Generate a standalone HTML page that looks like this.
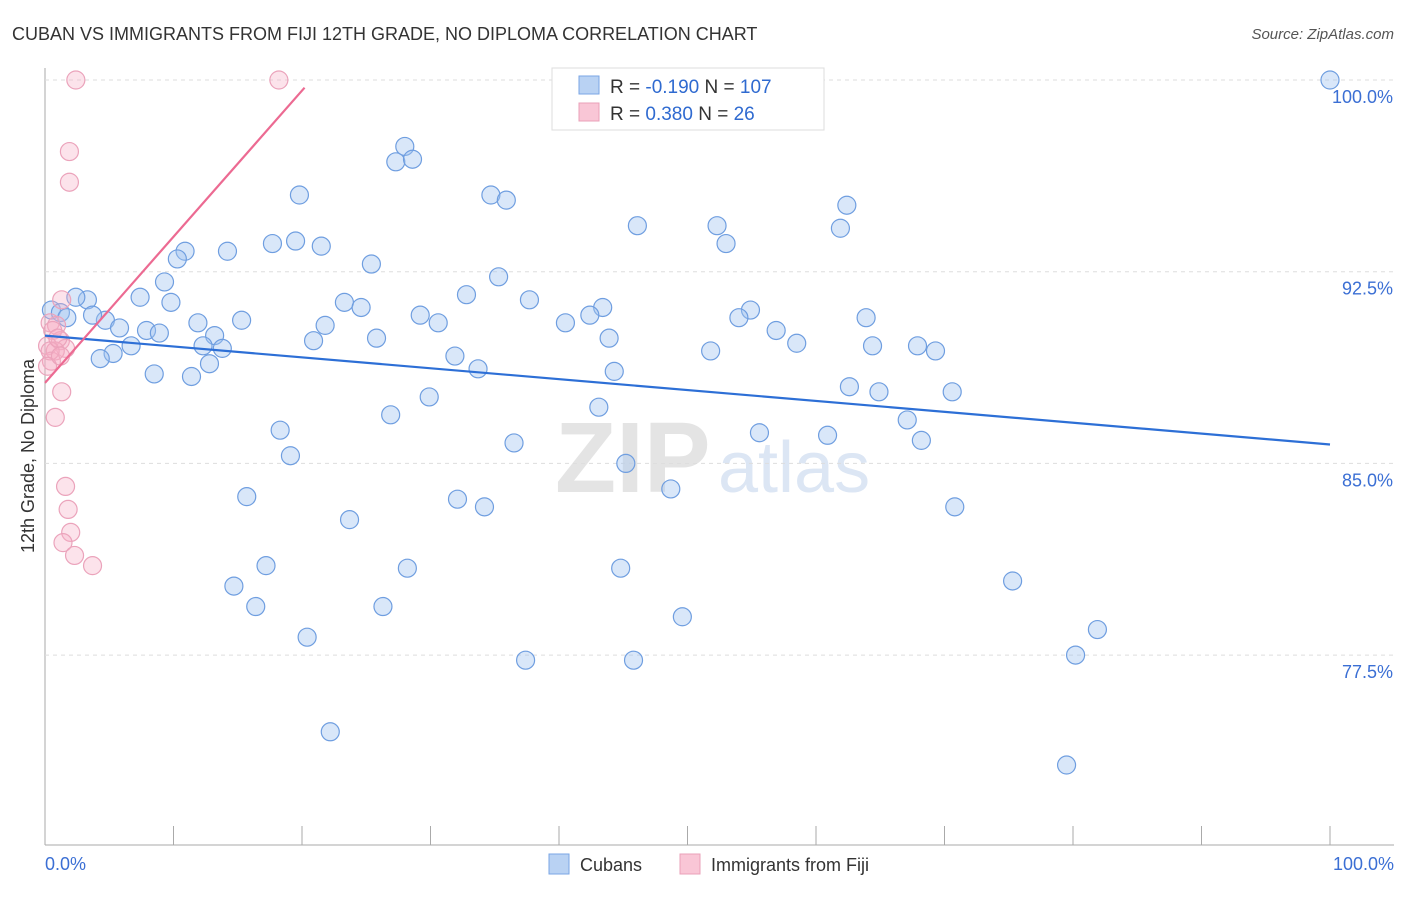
<!DOCTYPE html>
<html><head><meta charset="utf-8"><style>
body{margin:0;background:#fff;font-family:"Liberation Sans",sans-serif}
svg text{font-family:"Liberation Sans",sans-serif}
</style></head><body>
<svg id="c" width="1406" height="892">
<text x="12" y="40" font-size="18" fill="#333">CUBAN VS IMMIGRANTS FROM FIJI 12TH GRADE, NO DIPLOMA CORRELATION CHART</text>
<text x="1394" y="39" font-size="15" fill="#555" font-style="italic" text-anchor="end">Source: ZipAtlas.com</text>
<text x="555" y="492" font-size="100" fill="#e4e4e4" font-weight="bold">ZIP</text>
<text x="718" y="492" font-size="72" fill="#dce6f4">atlas</text>
<text transform="translate(34,456) rotate(-90)" font-size="18" fill="#333" text-anchor="middle">12th Grade, No Diploma</text>
<g id="grid"></g><g id="marks"></g>
<g>
<rect x="552" y="68" width="272" height="62" fill="#fff" stroke="#ddd"/>
<rect x="579" y="76" width="20" height="18" fill="#b9d2f3" stroke="#7aa6e4"/>
<rect x="579" y="103" width="20" height="18" fill="#f9c6d6" stroke="#eaa0b8"/>
<text x="610" y="93" font-size="19" fill="#333">R = <tspan fill="#2f6ad0">-0.190</tspan>   N = <tspan fill="#2f6ad0">107</tspan></text>
<text x="610" y="120" font-size="19" fill="#333">R =  <tspan fill="#2f6ad0">0.380</tspan>   N =   <tspan fill="#2f6ad0">26</tspan></text>
</g>
<g>
<rect x="549" y="854" width="20" height="20" fill="#b9d2f3" stroke="#7aa6e4"/>
<text x="580" y="871" font-size="18" fill="#333">Cubans</text>
<rect x="680" y="854" width="20" height="20" fill="#f9c6d6" stroke="#eaa0b8"/>
<text x="711" y="871" font-size="18" fill="#333">Immigrants from Fiji</text>
</g>
</svg>
<script>
const yTicks=[100,92.5,85,77.5];
const yTickLabels=["100.0%","92.5%","85.0%","77.5%"];
const xTickLabels=["0.0%","100.0%"];
const cubanX=[100,28.0,27.3,28.6,19.8,34.7,35.9,62.4,46.1,52.3,61.9,53.0,17.7,19.5,21.5,10.9,14.2,10.3,25.4,35.3,9.3,32.8,7.4,3.3,2.4,9.8,23.3,24.6,37.7,43.4,0.5,1.2,1.7,4.7,3.7,29.2,42.4,54.9,15.3,11.9,54.0,63.9,30.6,40.5,21.8,5.8,7.9,8.9,56.9,13.2,20.9,25.8,43.9,12.3,13.8,58.5,64.4,67.9,6.7,5.3,4.3,69.3,51.8,31.9,33.7,12.8,8.5,11.4,44.3,62.6,64.9,70.6,29.9,43.1,26.9,67.1,18.3,55.6,60.9,36.5,68.2,19.1,45.2,48.7,15.7,32.1,34.2,70.8,23.7,17.2,28.2,44.8,75.3,14.7,16.4,26.3,49.6,81.9,20.4,37.4,45.8,80.2,22.2,79.5];
const cubanY=[100,97.4,96.8,96.9,95.5,95.5,95.3,95.1,94.3,94.3,94.2,93.6,93.6,93.7,93.5,93.3,93.3,93.0,92.8,92.3,92.1,91.6,91.5,91.4,91.5,91.3,91.3,91.1,91.4,91.1,91.0,90.9,90.7,90.6,90.8,90.8,90.8,91.0,90.6,90.5,90.7,90.7,90.5,90.5,90.4,90.3,90.2,90.1,90.2,90.0,89.8,89.9,89.9,89.6,89.5,89.7,89.6,89.6,89.6,89.3,89.1,89.4,89.4,89.2,88.7,88.9,88.5,88.4,88.6,88.0,87.8,87.8,87.6,87.2,86.9,86.7,86.3,86.2,86.1,85.8,85.9,85.3,85.0,84.0,83.7,83.6,83.3,83.3,82.8,81.0,80.9,80.9,80.4,80.2,79.4,79.4,79.0,78.5,78.2,77.3,77.3,77.5,74.5,73.2];
const fijiX=[2.4,18.2,1.9,1.9,1.3,0.4,0.9,0.6,1.2,0.2,1.6,0.8,0.5,1.3,0.8,1.6,1.8,2.0,1.4,2.3,3.7,0.4,1.0,0.2,1.2];
const fijiY=[100,100,97.2,96.0,91.4,90.5,90.4,90.2,89.8,89.6,89.5,89.4,89.0,87.8,86.8,84.1,83.2,82.3,81.9,81.4,81.0,89.4,89.9,88.8,89.2];
const cubanTrend=[0,90.0,100,85.74];
const fijiTrend=[0,88.15,20.2,99.7];
const NS='http://www.w3.org/2000/svg';
const X=v=>45+v*12.85, Y=v=>80+(100-v)*25.56;
function mk(tag,attrs,parent){const e=document.createElementNS(NS,tag);for(const k in attrs)e.setAttribute(k,attrs[k]);parent.appendChild(e);return e;}
const grid=document.getElementById('grid'),marks=document.getElementById('marks');
mk('line',{x1:45,y1:68,x2:45,y2:845,stroke:'#aaa'},grid);
mk('line',{x1:45,y1:845,x2:1394,y2:845,stroke:'#aaa'},grid);
yTicks.forEach((t,i)=>{
 const l=mk('line',{x1:45,y1:Y(t),x2:1394,y2:Y(t),stroke:'#ddd','stroke-dasharray':'4,4'},grid);
 
 
 const tx=mk('text',{x:1393,y:Y(t)+23,'font-size':18,fill:'#3b6fd4','text-anchor':'end'},grid);
 tx.textContent=yTickLabels[i];
 
 
});
for(let k=1;k<=10;k++){const l=mk('line',{x1:X(k*10),y1:826,x2:X(k*10),y2:845,stroke:'#aaa'},grid);
 
 }
[[0,'start',45],[100,'end',1394]].forEach((a,i)=>{const tx=mk('text',{x:a[2],y:870,'font-size':18,fill:'#3b6fd4','text-anchor':a[1]},grid);tx.textContent=xTickLabels[i];
 
 });
cubanX.forEach((v,i)=>{const c=mk('circle',{cx:X(v),cy:Y(cubanY[i]),r:9,fill:'rgba(160,196,240,0.4)',stroke:'#6f9ee0','stroke-width':1.2},marks);
 
 });
fijiX.forEach((v,i)=>{const c=mk('circle',{cx:X(v),cy:Y(fijiY[i]),r:9,fill:'rgba(245,175,198,0.35)',stroke:'#eba3bb','stroke-width':1.2},marks);
 
 });
const bt=mk('line',{x1:X(cubanTrend[0]),y1:Y(cubanTrend[1]),x2:X(cubanTrend[2]),y2:Y(cubanTrend[3]),stroke:'#2d6fd6','stroke-width':2.2},marks);


const pt=mk('line',{x1:X(fijiTrend[0]),y1:Y(fijiTrend[1]),x2:X(fijiTrend[2]),y2:Y(fijiTrend[3]),stroke:'#ec6a92','stroke-width':2.2},marks);


</script>
</body></html>
